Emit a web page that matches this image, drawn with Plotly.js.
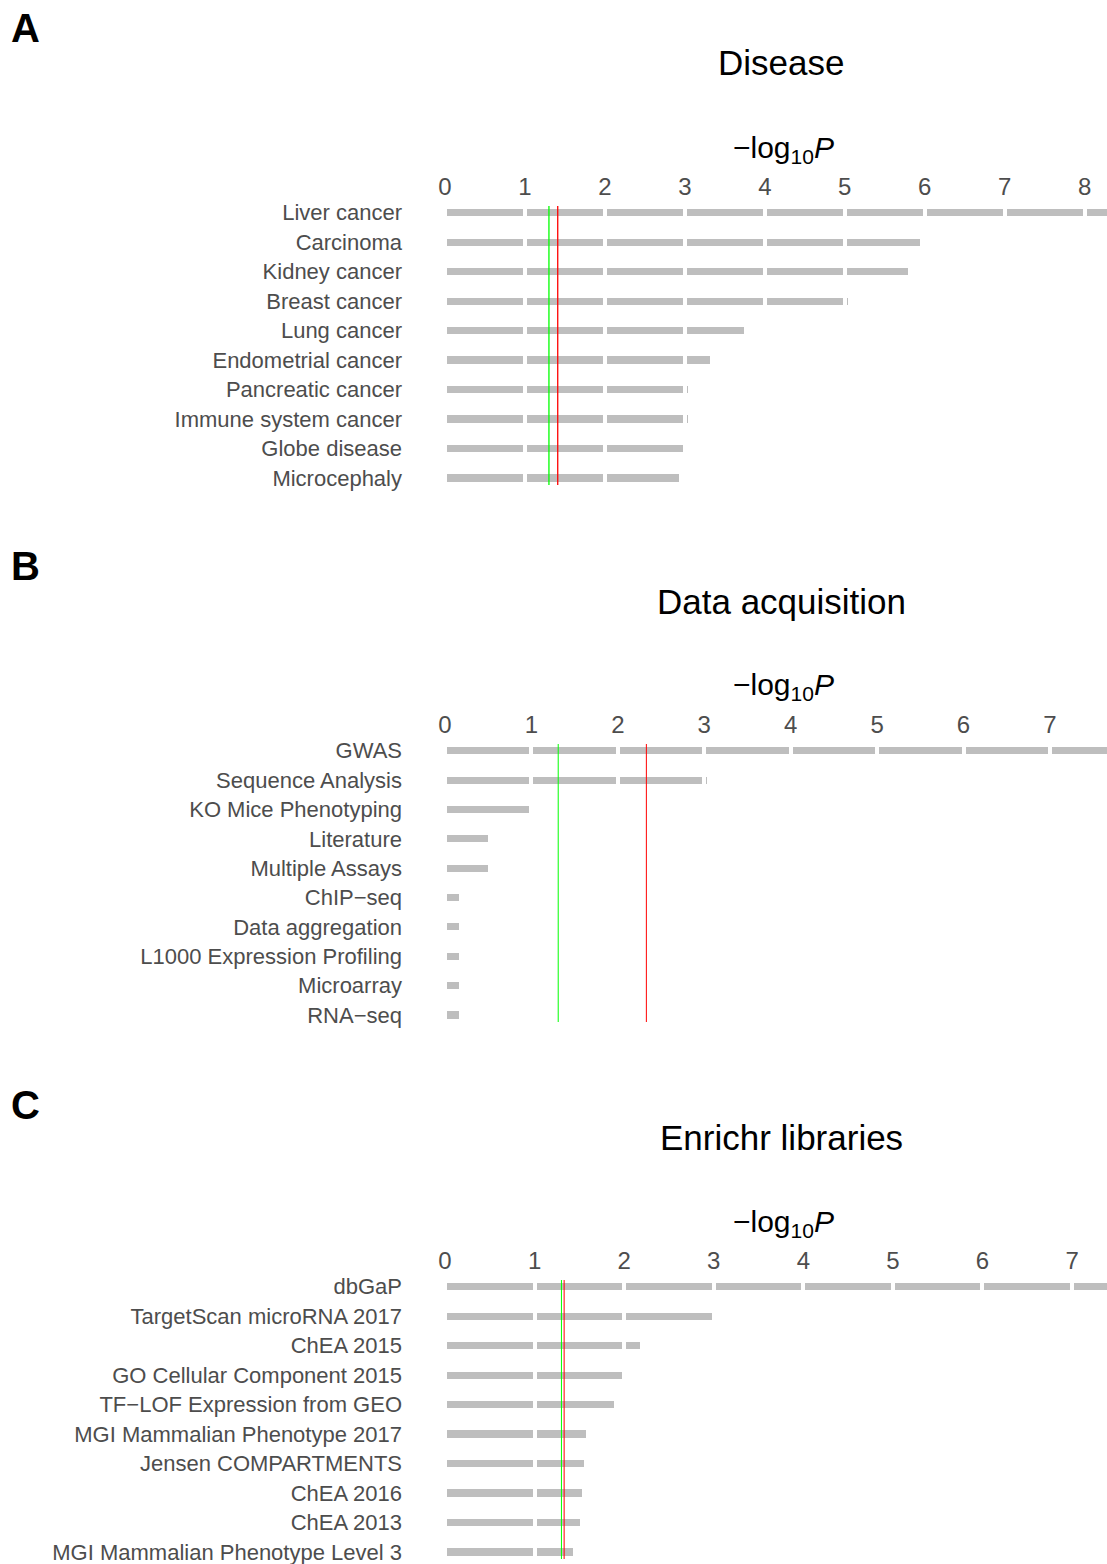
<!DOCTYPE html>
<html>
<head>
<meta charset="utf-8">
<script src="https://cdn.plot.ly/plotly-3.0.1.min.js"></script>
<style>html,body{margin:0;padding:0;background:#fff;}#chart{width:1107px;height:1564px;}</style>
</head>
<body>
<div id="chart"></div>
<script>
// ---- Data ----
const diseaseLabels = ["Liver cancer","Carcinoma","Kidney cancer","Breast cancer","Lung cancer","Endometrial cancer","Pancreatic cancer","Immune system cancer","Globe disease","Microcephaly"];
const diseaseValues = [8.6, 5.97, 5.81, 5.07, 3.77, 3.34, 3.07, 3.07, 3.0, 2.95];
const diseaseThresholds = {green: 1.30, red: 1.41};

const acqLabels = ["GWAS","Sequence Analysis","KO Mice Phenotyping","Literature","Multiple Assays","ChIP\u2212seq","Data aggregation","L1000 Expression Profiling","Microarray","RNA\u2212seq"];
const acqValues = [8.0, 3.05, 1.0, 0.52, 0.52, 0.19, 0.19, 0.19, 0.19, 0.19];
const acqThresholds = {green: 1.31, red: 2.33};

const enrLabels = ["dbGaP","TargetScan microRNA 2017","ChEA 2015","GO Cellular Component 2015","TF\u2212LOF Expression from GEO","MGI Mammalian Phenotype 2017","Jensen COMPARTMENTS","ChEA 2016","ChEA 2013","MGI Mammalian Phenotype Level 3"];
const enrValues = [8.0, 3.0, 2.2, 2.0, 1.91, 1.60, 1.57, 1.55, 1.53, 1.45];
const enrThresholds = {green: 1.30, red: 1.33};

const panelTitles = ["Disease","Data acquisition","Enrichr libraries"];
const panelLetters = ["A","B","C"];
const xTickVals = [0,1,2,3,4,5,6,7,8];

// ---- Layout helpers ----
const H = 1564, W = 1107;
const FONT = "Liberation Sans, Arial, Helvetica, sans-serif";
const panels = [
  {labels: diseaseLabels, values: diseaseValues, thr: diseaseThresholds, top: 206, bottom: 485, xmax: 8.28, title: panelTitles[0], letter: panelLetters[0], letterY: 28},
  {labels: acqLabels, values: acqValues, thr: acqThresholds, top: 744, bottom: 1022, xmax: 7.66, title: panelTitles[1], letter: panelLetters[1], letterY: 566},
  {labels: enrLabels, values: enrValues, thr: enrThresholds, top: 1280, bottom: 1559, xmax: 7.39, title: panelTitles[2], letter: panelLetters[2], letterY: 1105}
];
const xStart = 445 / W;
const py = p => 1 - p / H;

const traces = [];
const shapes = [];
const annotations = [];
const layout = {
  width: W, height: H,
  margin: {l: 0, r: 0, t: 0, b: 0},
  paper_bgcolor: "#fff", plot_bgcolor: "#fff",
  showlegend: false, barmode: "stack",
  font: {family: FONT},
  hovermode: false
};

panels.forEach((p, i) => {
  const n = i + 1;
  const xa = "x" + (n === 1 ? "" : n), ya = "y" + (n === 1 ? "" : n);
  const xk = "xaxis" + (n === 1 ? "" : n), yk = "yaxis" + (n === 1 ? "" : n);
  const maxSeg = Math.ceil(Math.max(...p.values));
  for (let k = 0; k < maxSeg; k++) {
    traces.push({
      type: "bar", orientation: "h",
      y: p.labels,
      x: p.values.map(v => v > k ? Math.min(1, v - k) : null),
      xaxis: xa, yaxis: ya,
      width: 0.38,
      marker: {color: "#BEBEBE", line: {color: "#FFFFFF", width: 4}},
      hoverinfo: "skip"
    });
  }
  layout[xk] = {
    domain: [xStart, 1], range: [0, p.xmax], side: "top",
    anchor: ya, tickvals: xTickVals, ticks: "", showgrid: false, zeroline: false, showline: false,
    tickfont: {size: 24, color: "#4D4D4D", family: FONT}, ticklabelstandoff: 5, fixedrange: true
  };
  layout[yk] = {
    domain: [py(p.bottom), py(p.top)], range: [9.24, -0.23], type: "category",
    anchor: xa, ticks: "", showgrid: false, zeroline: false, showline: false,
    tickfont: {size: 22, color: "#4D4D4D", family: FONT}, ticklabelstandoff: 42, fixedrange: true
  };
  const lw = i === 0 ? 1.3 : 1;
  shapes.push({type: "line", xref: xa, yref: ya + " domain", x0: p.thr.green, x1: p.thr.green, y0: 0, y1: 1, line: {color: "#00FF00", width: lw}});
  shapes.push({type: "line", xref: xa, yref: ya + " domain", x0: p.thr.red, x1: p.thr.red, y0: 0, y1: 1, line: {color: "#FF0000", width: lw}});
  annotations.push({xref: "paper", yref: "paper", x: 781 / W, y: py(p.top - 143), text: p.title, showarrow: false, xanchor: "center", yanchor: "middle", font: {size: 35, color: "#000", family: FONT}});
  annotations.push({xref: "paper", yref: "paper", x: 783 / W, y: py(p.top - 57), text: "\u2212log<sub>10</sub><i>P</i>", showarrow: false, xanchor: "center", yanchor: "middle", font: {size: 30, color: "#000", family: FONT}});
  annotations.push({xref: "paper", yref: "paper", x: 9 / W, y: py(p.letterY), text: "<b>" + p.letter + "</b>", showarrow: false, xanchor: "left", yanchor: "middle", font: {size: 40, color: "#000", family: FONT}});
});
layout.shapes = shapes;
layout.annotations = annotations;

Plotly.newPlot("chart", traces, layout, {displayModeBar: false, staticPlot: true});
</script>
</body>
</html>
